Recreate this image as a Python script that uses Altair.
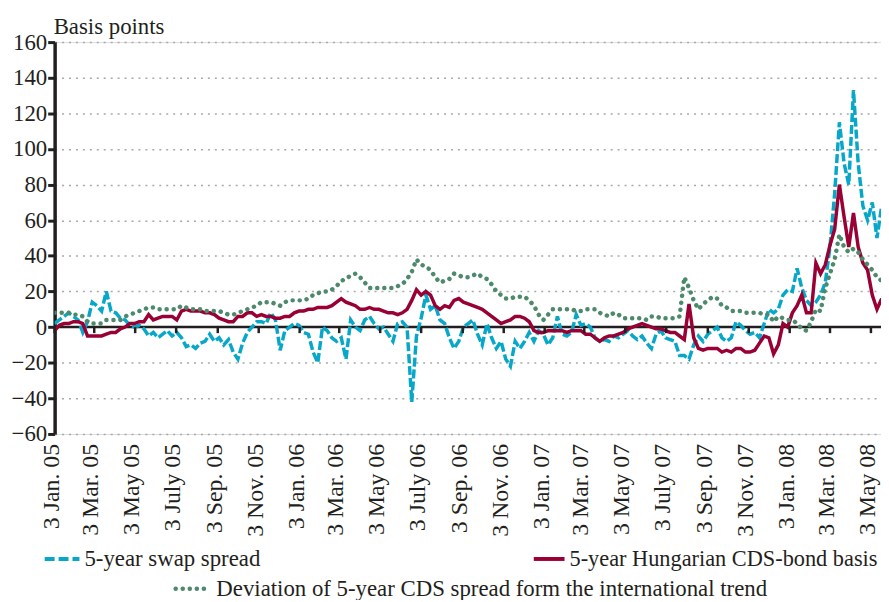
import altair as alt
import pandas as pd

# weekly observations starting 3 Jan 2005
start_date = "2005-01-03"

swap_spread = [
    2, 4, 6, 8, 6, 4, -3, 3, 14, 12,
    9, 20, 9, 8, 5, 4, 1, 0, 1, -1,
    -5, -3, -6, -4, -2, -5, -3, -6, -11, -10,
    -12, -9, -8, -4, -8, -6, -10, -7, -14, -18,
    -9, -3, 0, 3, 3, 2, 8, 4, -13, -2,
    0, 2, 1, -3, -4, -14, -20, 0, -2, -6,
    -8, -6, -18, 4, 0, -2, 4, 6, 2, -1,
    0, -4, -8, 2, 3, 0, -42, -5, 5, 18,
    10, 12, 4, 2, -6, -12, -8, 0, 2, 4,
    -4, -10, 2, -6, -12, -8, -18, -22, -8, -12,
    -8, -3, -8, -2, -4, -10, -6, 6, -4, -5,
    -3, 7, 1, 2, 0, -6, -8, -7, -8, -5,
    -6, -4, -2, -5, -7, -5, -9, -12, -4, -2,
    -6, -7, -8, -16, -16, -18, -10, -5, -8, -4,
    -2, 0, -6, -8, -6, 3, 1, -2, -4, -3,
    -6, 2, 10, 8, 10, 18, 21, 20, 33, 22,
    15, 12, 14, 18, 25, 45, 75, 115, 92, 80,
    133, 92, 68, 60, 70, 50, 68,
]

cds_bond_basis = [
    -2, 1, 2, 2, 3, 3, 2, -5, -5, -5,
    -5, -4, -3, -3, -1, 0, 2, 2, 3, 3,
    7, 4, 5, 6, 6, 6, 4, 9, 10, 9,
    9, 9, 8, 8, 7, 5, 4, 3, 3, 6,
    6, 8, 8, 6, 7, 6, 6, 5, 5, 6,
    6, 8, 9, 9, 10, 10, 11, 11, 11, 12,
    14, 16, 14, 13, 12, 10, 10, 11, 10, 10,
    9, 8, 8, 7, 8, 10, 15, 21, 18, 20,
    18, 12, 10, 12, 11, 15, 16, 14, 13, 12,
    11, 10, 8, 6, 4, 2, 3, 4, 6, 6,
    5, 3, -2, -3, -3, -2, -2, -2, -2, -3,
    -2, -2, -2, -4, -4, -6, -8, -6, -5, -5,
    -4, -3, -1, 0, 1, 2, 1, 0, -1, -1,
    -2, -3, -3, -5, -7, 13, -6, -12, -13, -12,
    -12, -12, -14, -13, -14, -12, -12, -14, -14, -13,
    -9, -5, -6, -15, -10, 2, 0, 8, 12, 18,
    8, 8, 36, 30, 35, 46, 55, 80, 62, 45,
    64, 45, 36, 32, 18, 10, 16,
]

cds_deviation = [
    8, 8, 8, 8, 7, 7, 6, 3, 2, 2,
    2, 4, 4, 4, 4, 6, 7, 8, 9, 10,
    11, 11, 10, 10, 10, 10, 10, 12, 11, 10,
    10, 10, 9, 9, 9, 9, 8, 7, 7, 8,
    9, 10, 11, 12, 14, 14, 14, 13, 12, 14,
    15, 15, 15, 15, 16, 18, 19, 20, 20, 21,
    23, 26, 27, 29, 30, 28, 25, 22, 22, 22,
    22, 22, 22, 23, 24, 27, 31, 38, 35, 34,
    32, 28, 25, 26, 27, 30, 29, 28, 28, 29,
    30, 28, 27, 24, 20, 18, 16, 16, 17, 17,
    17, 15, 12, 7, 4, 7, 10, 10, 10, 10,
    10, 9, 9, 10, 10, 10, 8, 7, 6, 8,
    7, 5, 5, 5, 5, 5, 4, 6, 6, 5,
    5, 5, 5, 6, 28, 22, 15, 10, 13, 15,
    17, 16, 12, 11, 9, 9, 9, 8, 8, 8,
    8, 7, 7, 3, 6, 5, 4, 4, 2, -1,
    -2, 3, 10, 9, 22, 30, 38, 52, 45, 42,
    44, 42, 38, 35, 32, 28, 26,
]

tick_dates = [
    "2005-01-03", "2005-03-03", "2005-05-03", "2005-07-03", "2005-09-03", "2005-11-03",
    "2006-01-03", "2006-03-03", "2006-05-03", "2006-07-03", "2006-09-03", "2006-11-03",
    "2007-01-03", "2007-03-03", "2007-05-03", "2007-07-03", "2007-09-03", "2007-11-03",
    "2008-01-03", "2008-03-03", "2008-05-03",
]
tick_labels = [
    "3 Jan. 05", "3 Mar. 05", "3 May 05", "3 July 05", "3 Sep. 05", "3 Nov. 05",
    "3 Jan. 06", "3 Mar. 06", "3 May 06", "3 July 06", "3 Sep. 06", "3 Nov. 06",
    "3 Jan. 07", "3 Mar. 07", "3 May 07", "3 July 07", "3 Sep. 07", "3 Nov. 07",
    "3 Jan. 08", "3 Mar. 08", "3 May 08",
]
y_ticks = [-60, -40, -20, 0, 20, 40, 60, 80, 100, 120, 140, 160]

y_title = "Basis points"
series_names = [
    "5-year swap spread",
    "5-year Hungarian CDS-bond basis",
    "Deviation of 5-year CDS spread form the international trend",
]

CYAN = "#07a7c9"
RED = "#990033"
GREEN = "#4d8a6c"
INK = "#231f20"
FONT = "Liberation Serif"
FS = 23

W, H = 833, 395

dates = pd.date_range(start_date, periods=len(swap_spread), freq="7D")
df = pd.DataFrame({
    "date": dates.strftime("%Y-%m-%d"),
    "swap": swap_spread,
    "basis": cds_bond_basis,
    "dev": cds_deviation,
})
ticks_df = pd.DataFrame({"date": tick_dates, "label": tick_labels})
one = pd.DataFrame({"k": [0]})

xscale = alt.Scale(domain=[alt.DateTime(year=2005, month=1, date=3),
                           alt.DateTime(year=2008, month=5, date=18)])
yscale = alt.Scale(domain=[-60, 160], nice=False, zero=False)

YAX = alt.Axis(values=y_ticks, grid=True, gridColor="#a8a8a8",
               gridDash=[2, 5], gridWidth=1.5, labelOverlap=False,
               domainColor=INK, domainWidth=3.5,
               tickColor=INK, tickWidth=3, tickSize=7,
               labelFont=FONT, labelFontSize=FS, labelColor=INK,
               labelPadding=1, format="d")

X = alt.X("date:T", scale=xscale, axis=None)

base = alt.Chart(df)

zero_line = alt.Chart(one).mark_rule(color=INK, strokeWidth=2.5).encode(
    y=alt.Y("k:Q", scale=yscale, axis=YAX, title=None)
)

zero_ticks = alt.Chart(ticks_df).mark_rule(color=INK, strokeWidth=2.5).encode(
    x=alt.X("date:T", scale=xscale, axis=None),
    y=alt.datum(0, axis=YAX, title=None),
    y2=alt.datum(-3.4),
)

line_swap = base.mark_line(color=CYAN, strokeWidth=3.5, strokeDash=[9, 3],
                           clip=True).encode(
    x=X, y=alt.Y("swap:Q", scale=yscale, axis=YAX, title=None))
line_basis = base.mark_line(color=RED, strokeWidth=3.5, clip=True).encode(
    x=X, y=alt.Y("basis:Q", scale=yscale, axis=YAX, title=None))
line_dev = base.mark_line(color=GREEN, strokeWidth=4.5, strokeDash=[0.1, 7],
                          strokeCap="round", clip=True).encode(
    x=X, y=alt.Y("dev:Q", scale=yscale, axis=YAX, title=None))

xlabels = alt.Chart(ticks_df).mark_text(
    angle=270, align="right", baseline="middle", font=FONT, fontSize=24,
    color=INK, xOffset=-3
).encode(x=alt.X("date:T", scale=xscale, axis=None), y=alt.value(H + 10), text="label:N")

title_txt = alt.Chart(one).mark_text(
    align="left", baseline="alphabetic", font=FONT, fontSize=FS, color=INK, text=y_title
).encode(x=alt.value(-1), y=alt.value(-8))

# legend
ly1, ly2 = 521, 551
leg = [
    alt.Chart(one).mark_rule(color=CYAN, strokeWidth=4, strokeDash=[10, 4]).encode(
        x=alt.value(-10), x2=alt.value(25), y=alt.value(ly1), y2=alt.value(ly1)),
    alt.Chart(one).mark_text(align="left", baseline="middle", font=FONT, fontSize=FS,
                             color=INK, text=series_names[0]).encode(
        x=alt.value(30), y=alt.value(ly1)),
    alt.Chart(one).mark_rule(color=RED, strokeWidth=4).encode(
        x=alt.value(483), x2=alt.value(514), y=alt.value(ly1), y2=alt.value(ly1)),
    alt.Chart(one).mark_text(align="left", baseline="middle", font=FONT, fontSize=22.5,
                             color=INK, text=series_names[1]).encode(
        x=alt.value(519), y=alt.value(ly1)),
    alt.Chart(one).mark_rule(color=GREEN, strokeWidth=4.5, strokeDash=[0.1, 7],
                             strokeCap="round").encode(
        x=alt.value(122), x2=alt.value(157), y=alt.value(ly2), y2=alt.value(ly2)),
    alt.Chart(one).mark_text(align="left", baseline="middle", font=FONT, fontSize=FS,
                             color=INK, text=series_names[2]).encode(
        x=alt.value(163), y=alt.value(ly2)),
]

chart = alt.layer(
    zero_line, line_swap, line_basis, line_dev, zero_ticks, xlabels, title_txt, *leg
).properties(
    width=W, height=H,
    autosize=alt.AutoSizeParams(type="none"),
    padding={"left": 47, "top": 32, "right": 0, "bottom": 165},
).configure_view(stroke=None).configure(background="white").configure_axisY(
    labelOverlap=False, labelFont=FONT, labelFontSize=FS, labelColor=INK,
    tickSize=7, tickWidth=3, tickColor=INK, domainWidth=3.5, domainColor=INK,
    labelPadding=1
)

chart.save("out.html", embed_options={"renderer": "svg", "actions": False})
